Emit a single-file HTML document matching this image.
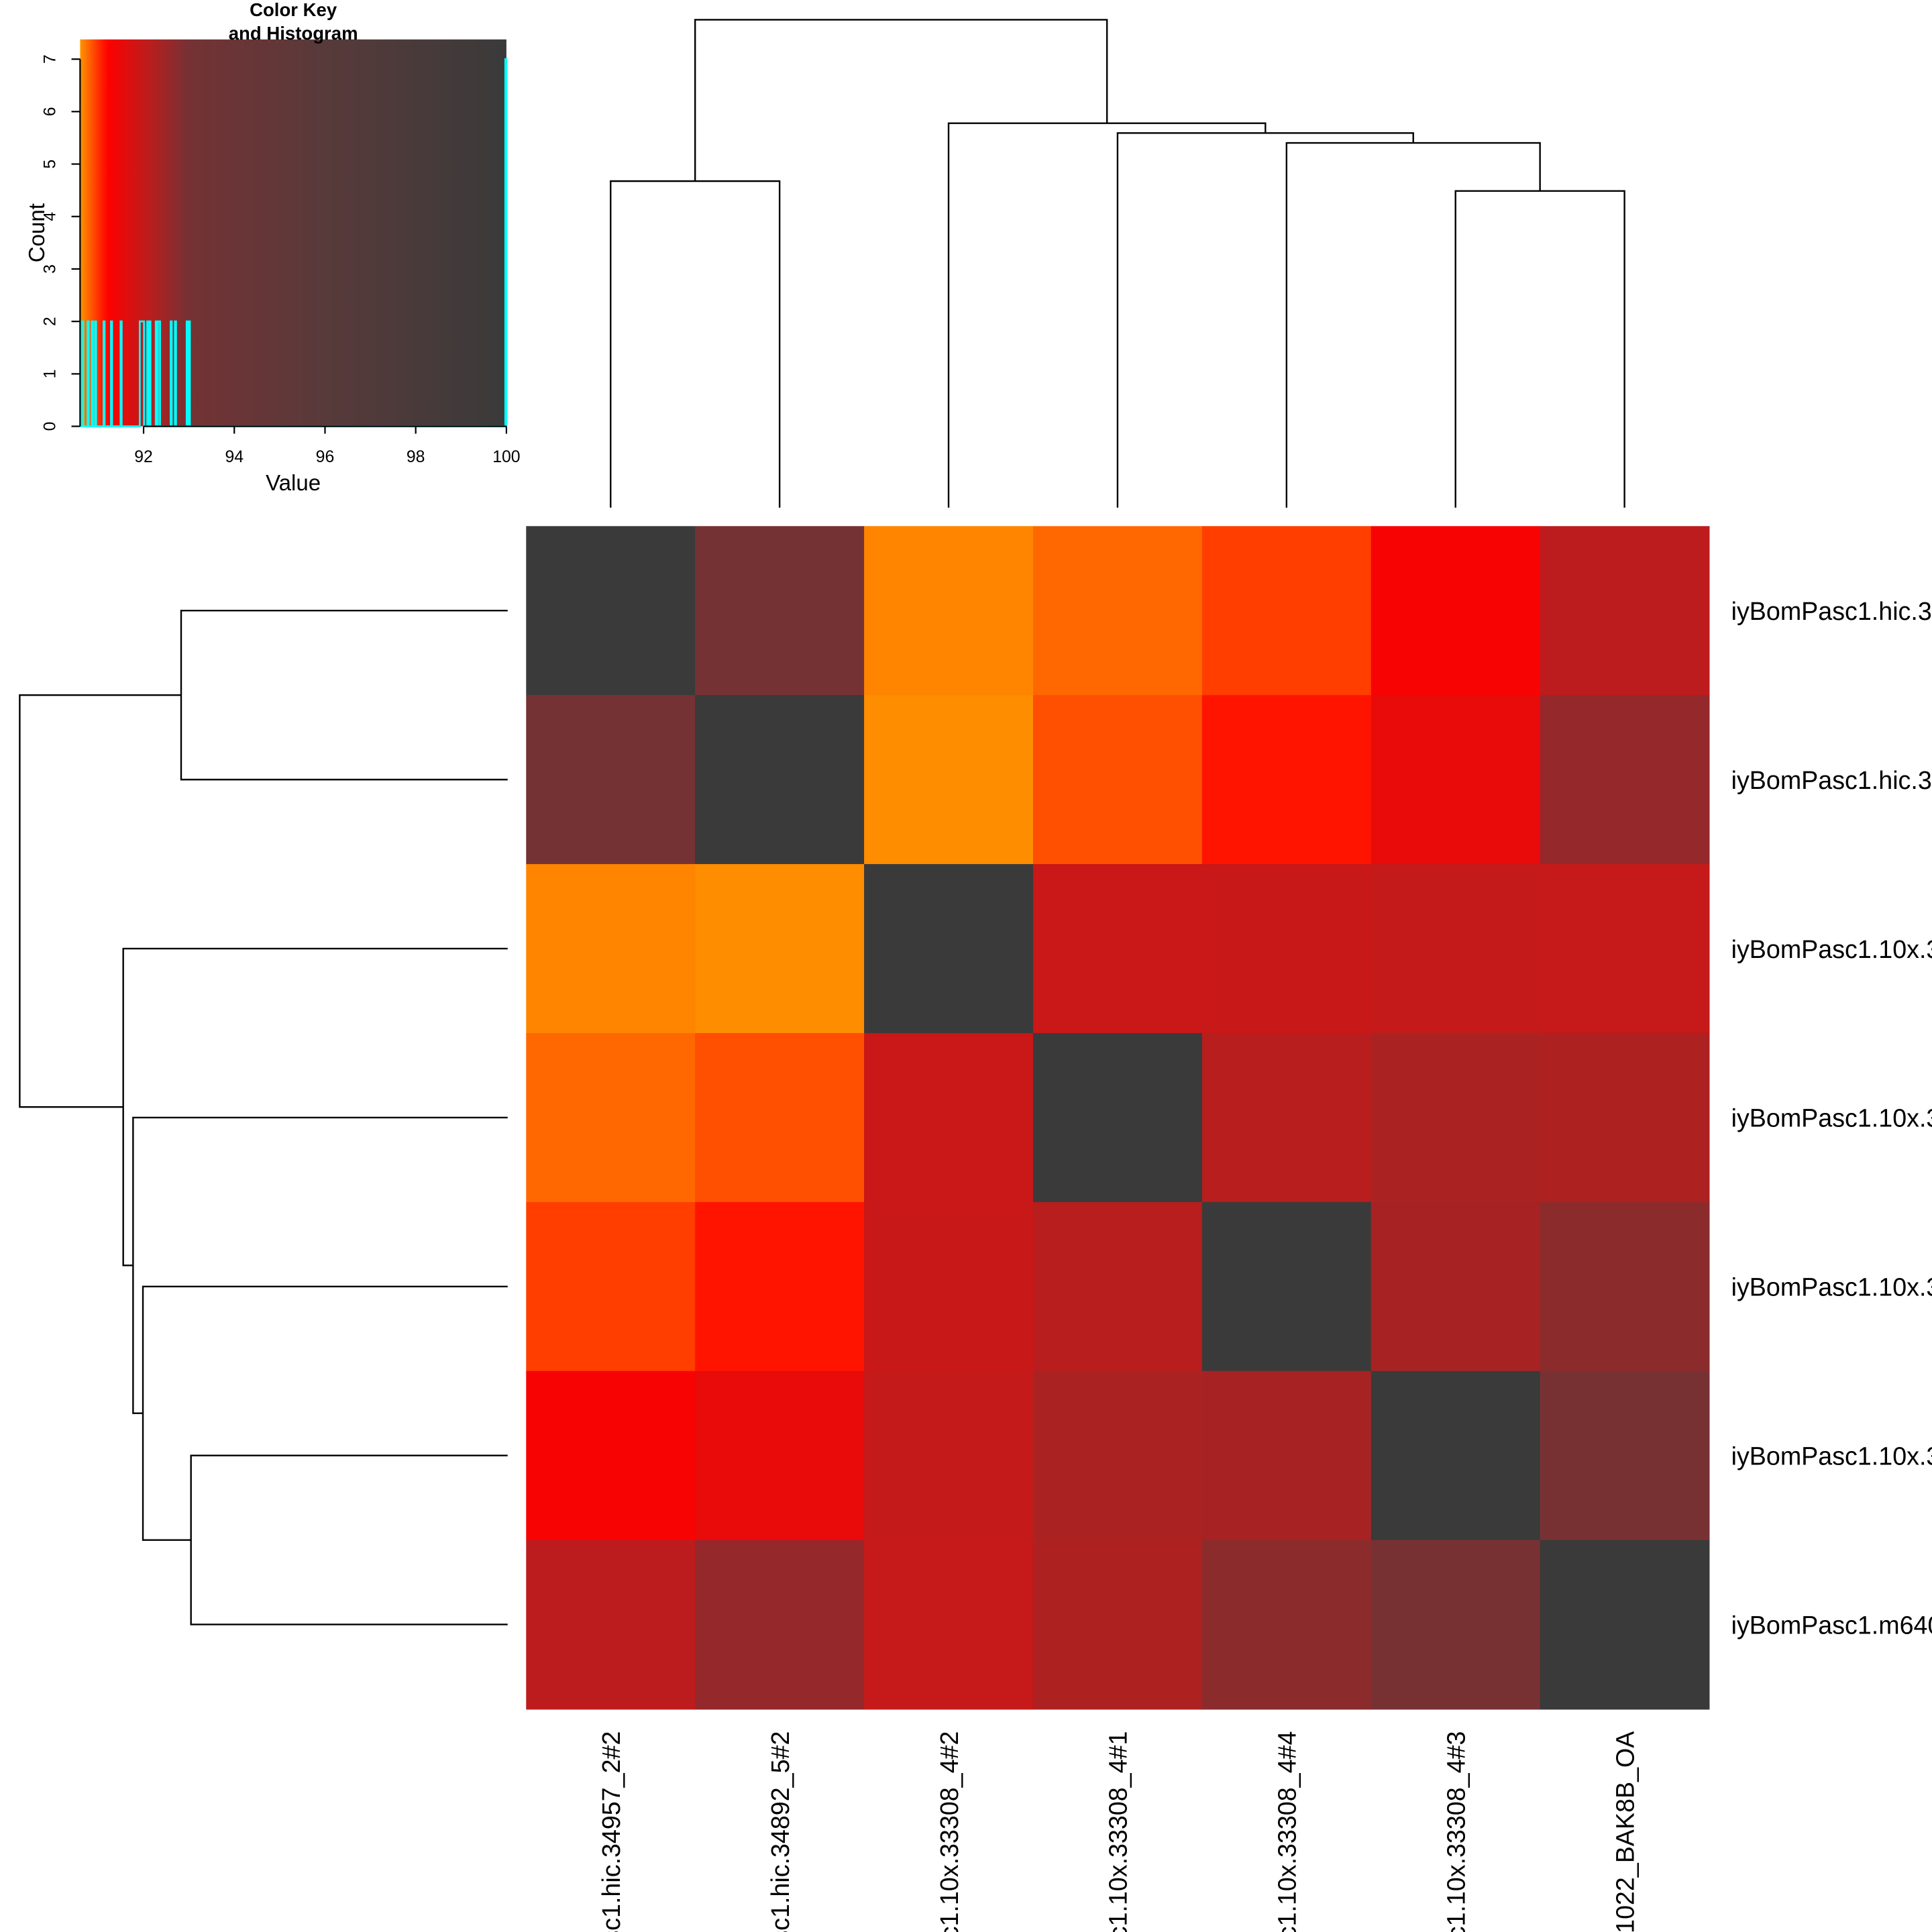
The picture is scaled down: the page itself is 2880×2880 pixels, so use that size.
<!DOCTYPE html>
<html><head><meta charset="utf-8"><style>html,body{margin:0;padding:0;background:#fff;overflow:hidden;width:2880px;height:2880px}svg{display:block;overflow:hidden}</style></head>
<body>
<svg id="chart" width="2880" height="2880" viewBox="0 0 1568 1568" xmlns="http://www.w3.org/2000/svg" font-family="Liberation Sans, sans-serif">
<defs><linearGradient id="keyGrad" x1="0" x2="1" y1="0" y2="0"></linearGradient></defs>
</svg>
<script>
const labels = ["iyBomPasc1.hic.34957_2#2","iyBomPasc1.hic.34892_5#2","iyBomPasc1.10x.33308_4#2","iyBomPasc1.10x.33308_4#1","iyBomPasc1.10x.33308_4#4","iyBomPasc1.10x.33308_4#3","iyBomPasc1.m64094_201022_BAK8B_OA"];
const values = [
 [100,93.0,90.66,90.78,90.95,91.3,92.1],
 [93.0,100,90.63,90.88,91.12,91.5,92.6],
 [90.66,90.63,100,91.92,91.95,92.0,91.97],
 [90.78,90.88,91.92,100,92.15,92.32,92.28],
 [90.95,91.12,91.95,92.15,100,92.36,92.7],
 [91.3,91.5,92.0,92.32,92.36,100,92.95],
 [92.1,92.6,91.97,92.28,92.7,92.95,100]];
// dendrogram merges (leaf indices / cluster ids) and heights
const mergeLeft = ["0","5","4","3","2","c0"];
const mergeRight = ["1","6","c1","c2","c3","c4"];
const mergeHeights = [265,257,296,304,312,396];
const keyTicks = [92,94,96,98,100];
const countTicks = [0,1,2,3,4,5,6,7];
// colormap stops (value -> color)
const cmapVals = [90.6,91.2,92.0,93.0,96.0,100];
const cmapCols = ["#ff9400","#ff0000","#c41a1a","#743234","#583a3a","#3a3a3a"];

const NS="http://www.w3.org/2000/svg";
const svg=document.getElementById('chart');
function mk(tag,attrs,parent){const e=document.createElementNS(NS,tag);for(const k in attrs)e.setAttribute(k,attrs[k]);(parent||svg).appendChild(e);return e;}
function hex(c){return [parseInt(c.slice(1,3),16),parseInt(c.slice(3,5),16),parseInt(c.slice(5,7),16)];}
function cmap(v){
 if(v<=cmapVals[0])return cmapCols[0];
 for(let i=1;i<cmapVals.length;i++){if(v<=cmapVals[i]){const t=(v-cmapVals[i-1])/(cmapVals[i]-cmapVals[i-1]);const a=hex(cmapCols[i-1]),b=hex(cmapCols[i]);return 'rgb('+a.map((x,j)=>Math.round(x+(b[j]-x)*t)).join(',')+')';}}
 return cmapCols[cmapCols.length-1];
}
const n=labels.length, H0=427, H1=1387, cw=(H1-H0)/n;
const cx=i=>H0+cw*(i+0.5);
for(let r=0;r<n;r++)for(let c=0;c<n;c++){
 const el=mk('rect',{x:H0+c*cw,y:H0+r*cw,width:cw+0.5,height:cw+0.5,fill:cmap(values[r][c])});
 
 
}
for(let i=0;i<n;i++){
 const t=mk('text',{x:1405,y:cx(i)+7.5,'font-size':20.5,fill:'#000'});t.textContent=labels[i];
 
 
 const u=mk('text',{x:0,y:0,'font-size':20.5,fill:'#000','text-anchor':'end',transform:'translate('+(cx(i)+7.5)+',1405) rotate(-90)'});u.textContent=labels[i];
 
 
}
const BASE=412;
function dendro(horizontal){
 const pos={},hgt={};
 for(let i=0;i<n;i++){pos[String(i)]=cx(i);hgt[String(i)]=0;}
 const g=mk('g',{stroke:'#000','stroke-width':1.3,fill:'none'});
 
 
 for(let m=0;m<mergeLeft.length;m++){
  const a=mergeLeft[m],b=mergeRight[m],h=mergeHeights[m];
  const pa=pos[a],pb=pos[b],d=BASE-h,da=BASE-hgt[a],db=BASE-hgt[b];
  let dstr=horizontal?`M${da},${pa}H${d}V${pb}H${db}`:`M${pa},${da}V${d}H${pb}V${db}`;
  const p=mk('path',{d:dstr},g);
  
  
  pos['c'+m]=(pa+pb)/2;hgt['c'+m]=h;
 }
}
dendro(false);dendro(true);
const KX0=65,KX1=411,KY0=32,KY1=346;
const kx=v=>KX0+(v-90.6)/(100-90.6)*(KX1-KX0);
const ky=c=>346-c*(346-48)/7;
const grad=document.getElementById('keyGrad');
for(let i=0;i<=60;i++){const v=90.6+(100-90.6)*i/60;mk('stop',{offset:(i/60),'stop-color':cmap(v)},grad);}
const kr=mk('rect',{x:KX0,y:KY0,width:KX1-KX0,height:KY1-KY0,fill:'url(#keyGrad)'});


const nb=400,bw=(100-90.6)/nb,counts=new Array(nb).fill(0);
for(const row of values)for(const v of row){let b=Math.floor((v-90.6)/bw);if(b>=nb)b=nb-1;if(b<0)b=0;counts[b]++;}
let hd=`M${kx(90.6)},${ky(0)}`;
for(let b=0;b<nb;b++){hd+=`V${ky(counts[b])}H${kx(90.6+(b+1)*bw)}`;}
hd+=`V${ky(0)}`;
const hp=mk('path',{d:hd,stroke:'#00ffff','stroke-width':1.5,fill:'none'});


const ax=mk('g',{stroke:'#000','stroke-width':1.2});


mk('line',{x1:kx(keyTicks[0]),x2:KX1,y1:KY1,y2:KY1},ax);
mk('line',{x1:KX0,x2:KX0,y1:ky(0),y2:ky(7)},ax);
for(const t of keyTicks){mk('line',{x1:kx(t),x2:kx(t),y1:KY1,y2:KY1+6},ax);
 const tx=mk('text',{x:kx(t),y:KY1+29,'font-size':13.5,'text-anchor':'middle',stroke:'none',fill:'#000'});tx.textContent=t;
 
 }
for(const c of countTicks){mk('line',{x1:KX0-7,x2:KX0,y1:ky(c),y2:ky(c)},ax);
 const tx=mk('text',{x:0,y:0,'font-size':13.5,'text-anchor':'middle',transform:`translate(${KX0-20},${ky(c)}) rotate(-90)`,stroke:'none',fill:'#000'});tx.textContent=c;
 
 }
const vt=mk('text',{x:238,y:398,'font-size':18,'text-anchor':'middle'});vt.textContent='Value';

const ct=mk('text',{x:0,y:0,'font-size':18,'text-anchor':'middle',transform:'translate(36,189) rotate(-90)'});ct.textContent='Count';

const t1=mk('text',{x:238,y:13,'font-size':15,'font-weight':'bold','text-anchor':'middle'});t1.textContent='Color Key';

const t2=mk('text',{x:238,y:32,'font-size':15,'font-weight':'bold','text-anchor':'middle'});t2.textContent='and Histogram';

</script>
</body></html>
